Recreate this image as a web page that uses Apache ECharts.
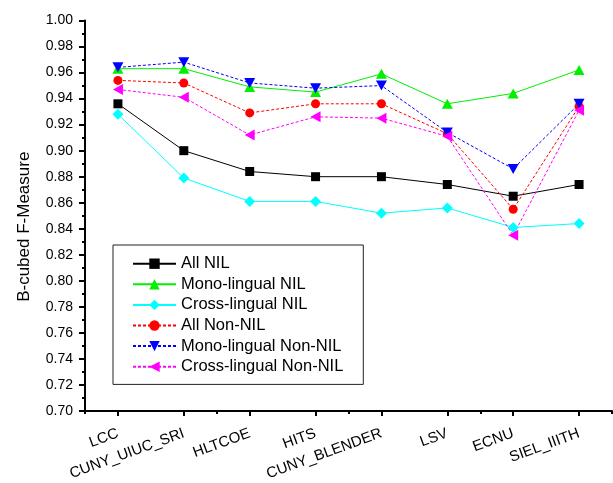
<!DOCTYPE html>
<html>
<head>
<meta charset="utf-8">
<script src="https://cdn.jsdelivr.net/npm/echarts@6/dist/echarts.min.js"></script>
<style>
  html, body { margin: 0; padding: 0; background: #fff; }
  #chart { width: 613px; height: 483px; }
</style>
</head>
<body>
<div id="chart"></div>
<script>
// Systems evaluated (x axis)
const categories = ['LCC', 'CUNY_UIUC_SRI', 'HLTCOE', 'HITS', 'CUNY_BLENDER', 'LSV', 'ECNU', 'SIEL_IIITH'];

// B-cubed F-Measure per system
const allNil      = [0.936, 0.900, 0.884, 0.880, 0.880, 0.874, 0.865, 0.874];
const monoNil     = [0.963, 0.963, 0.949, 0.945, 0.959, 0.936, 0.944, 0.962];
const crossNil    = [0.928, 0.879, 0.861, 0.861, 0.852, 0.856, 0.841, 0.844];
const allNonNil   = [0.954, 0.952, 0.929, 0.936, 0.936, 0.913, 0.855, 0.934];
const monoNonNil  = [0.964, 0.968, 0.952, 0.948, 0.950, 0.914, 0.886, 0.936];
const crossNonNil = [0.947, 0.941, 0.912, 0.926, 0.925, 0.911, 0.835, 0.931];

// Y axis range and step
const yMin = 0.70, yMax = 1.00, yStep = 0.02;

const FONT = 'Liberation Sans, Arial, sans-serif';

function lineSeries(name, data, color, symbol, size, rotate, dashed) {
  return {
    name: name,
    type: 'line',
    data: data,
    xAxisIndex: 0,
    symbol: symbol,
    symbolSize: size,
    symbolRotate: rotate,
    showAllSymbol: true,
    itemStyle: { color: color },
    lineStyle: { color: color, width: 1, type: dashed ? [3, 2] : 'solid' },
    emphasis: { disabled: true }
  };
}

const chart = echarts.init(document.getElementById('chart'), null, { renderer: 'canvas' });

chart.setOption({
  animation: false,
  backgroundColor: '#ffffff',
  textStyle: { fontFamily: FONT },
  grid: { left: 85, right: 1, top: 20.5, bottom: 72, containLabel: false, outerBoundsMode: 'none' },
  legend: {
    orient: 'vertical',
    left: 113,
    top: 245,
    itemWidth: 43,
    itemHeight: 13,
    itemGap: 0.6,
    padding: [8.7, 20, 7.7, 19],
    borderColor: '#222',
    borderWidth: 1,
    backgroundColor: '#fff',
    textStyle: { fontFamily: FONT, fontSize: 16.5, color: '#000', lineHeight: 20 },
    data: ['All NIL', 'Mono-lingual NIL', 'Cross-lingual NIL', 'All Non-NIL', 'Mono-lingual Non-NIL', 'Cross-lingual Non-NIL']
  },
  xAxis: [
    {
      type: 'category',
      data: categories,
      boundaryGap: true,
      axisLine: { show: true, lineStyle: { color: '#000', width: 2 } },
      axisTick: { show: true, alignWithLabel: true, length: 5, lineStyle: { color: '#000', width: 2 } },
      axisLabel: { interval: 0, rotate: 20, margin: 22, fontFamily: FONT, fontSize: 15, color: '#000' },
      splitLine: { show: false }
    },
    {
      // boundary ticks between categories
      type: 'category',
      data: categories,
      boundaryGap: true,
      position: 'bottom',
      axisLine: { show: false },
      axisTick: { show: true, length: 3, lineStyle: { color: '#000', width: 2 } },
      axisLabel: { show: false },
      splitLine: { show: false }
    }
  ],
  yAxis: {
    type: 'value',
    min: yMin,
    max: yMax,
    interval: yStep,
    name: 'B-cubed F-Measure',
    nameLocation: 'middle',
    nameGap: 52,
    nameTextStyle: { fontFamily: FONT, fontSize: 17, color: '#000', padding: [0, 22, 0, 0] },
    axisLine: { show: true, lineStyle: { color: '#000', width: 2 } },
    axisTick: { show: true, inside: false, length: 6, lineStyle: { color: '#000', width: 2 } },
    minorTick: { show: true, splitNumber: 2, length: 3, lineStyle: { color: '#000', width: 2 } },
    axisLabel: { margin: 12, fontFamily: FONT, fontSize: 14, color: '#000', formatter: v => v.toFixed(2) },
    splitLine: { show: false },
    minorSplitLine: { show: false }
  },
  series: [
    lineSeries('All NIL', allNil, '#000000', 'rect', 9, 0, false),
    lineSeries('Mono-lingual NIL', monoNil, '#00f000', 'triangle', [11, 10], 0, false),
    lineSeries('Cross-lingual NIL', crossNil, '#00ffff', 'diamond', [11, 11], 0, false),
    lineSeries('All Non-NIL', allNonNil, '#ff0000', 'circle', 9, 0, true),
    lineSeries('Mono-lingual Non-NIL', monoNonNil, '#0000ff', 'triangle', [11, 10], 180, true),
    lineSeries('Cross-lingual Non-NIL', crossNonNil, '#ff00ff', 'triangle', [11, 10], 90, true)
  ]
});
</script>
</body>
</html>
